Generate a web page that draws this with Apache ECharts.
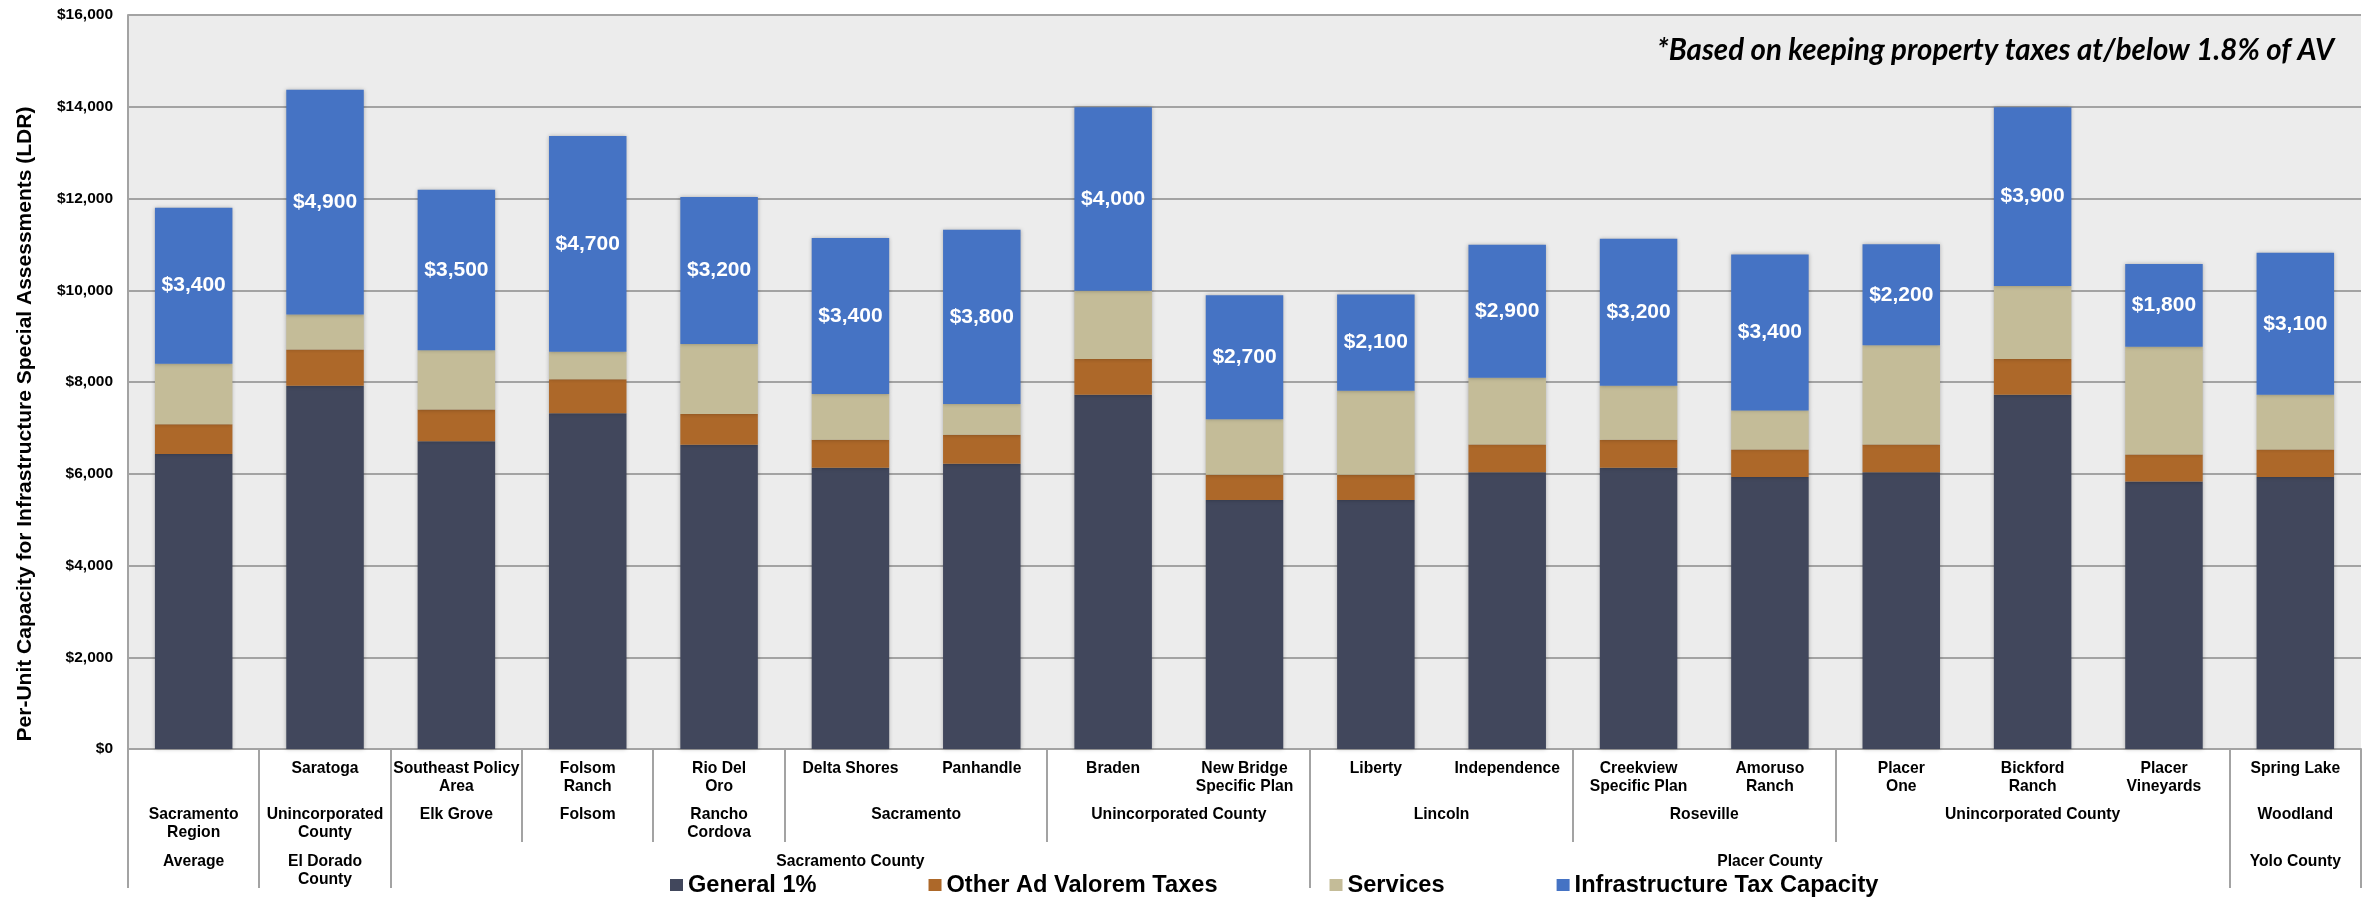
<!DOCTYPE html>
<html>
<head>
<meta charset="utf-8">
<script src="https://cdn.jsdelivr.net/npm/echarts@6/dist/echarts.min.js"></script>
<style>
  html, body { margin: 0; padding: 0; background: #ffffff; }
  #chart { width: 2374px; height: 898px; }
</style>
</head>
<body>
<div id="chart"></div>
<script>
// Project names (first tier of the category axis)
const categories = [
  '', 'Saratoga', 'Southeast Policy\nArea', 'Folsom\nRanch', 'Rio Del\nOro',
  'Delta Shores', 'Panhandle', 'Braden', 'New Bridge\nSpecific Plan', 'Liberty',
  'Independence', 'Creekview\nSpecific Plan', 'Amoruso\nRanch', 'Placer\nOne',
  'Bickford\nRanch', 'Placer\nVineyards', 'Spring Lake'
];

// Jurisdiction tier: [label, first index, last index]
const jurisdictions = [
  ['Sacramento\nRegion', 0, 0],
  ['Unincorporated\nCounty', 1, 1],
  ['Elk Grove', 2, 2],
  ['Folsom', 3, 3],
  ['Rancho\nCordova', 4, 4],
  ['Sacramento', 5, 6],
  ['Unincorporated County', 7, 8],
  ['Lincoln', 9, 10],
  ['Roseville', 11, 12],
  ['Unincorporated County', 13, 15],
  ['Woodland', 16, 16]
];

// County tier: [label, first index, last index]
const counties = [
  ['Average', 0, 0],
  ['El Dorado\nCounty', 1, 1],
  ['Sacramento County', 2, 8],
  ['Placer County', 9, 15],
  ['Yolo County', 16, 16]
];

// Per-unit amounts ($)
const general1 = [6430, 7920, 6710, 7320, 6630, 6130, 6220, 7720, 5430, 5430, 6030, 6130, 5930, 6030, 7720, 5830, 5930];
const otherAdValorem = [650, 790, 690, 740, 670, 610, 630, 780, 550, 550, 610, 610, 600, 610, 780, 590, 600];
const services = [1320, 760, 1290, 600, 1530, 1000, 670, 1490, 1210, 1830, 1450, 1180, 850, 2160, 1590, 2350, 1190];
const infrastructure = [3400, 4900, 3500, 4700, 3200, 3400, 3800, 4000, 2700, 2100, 2900, 3200, 3400, 2200, 3900, 1800, 3100];

const seriesNames = ['General 1%', 'Other Ad Valorem Taxes', 'Services', 'Infrastructure Tax Capacity'];
const yTicks = { min: 0, max: 16000, interval: 2000 };
const noteText = '*Based on keeping property taxes at/below 1.8% of AV';
const yTitle = 'Per-Unit Capacity for Infrastructure Special Assessments (LDR)';

const FONT = "'Liberation Sans', Arial, Helvetica, sans-serif";
const colors = ['#41475c', '#ad6829', '#c4bc98', '#4573c4'];
const money = v => '$' + Number(v).toLocaleString('en-US');

const chart = echarts.init(document.getElementById('chart'), null, { renderer: 'canvas' });

const barShadow = { shadowBlur: 4, shadowColor: 'rgba(0,0,0,0.28)', shadowOffsetX: 0, shadowOffsetY: 0 };

function barSeries(name, data, idx, withLabel) {
  return {
    name: name,
    type: 'bar',
    stack: 'total',
    barWidth: '59%',
    data: data,
    itemStyle: Object.assign({ color: colors[idx] }, barShadow),
    emphasis: { disabled: true },
    label: withLabel ? {
      show: true,
      position: 'inside',
      color: '#ffffff',
      fontFamily: FONT,
      fontWeight: 'bold',
      fontSize: 21,
      formatter: p => money(p.value)
    } : { show: false }
  };
}

chart.setOption({
  animation: false,
  backgroundColor: '#ffffff',
  grid: {
    left: 128, top: 15, width: 2233, height: 734,
    show: true, backgroundColor: '#ececec', borderWidth: 0
  },
  xAxis: {
    type: 'category',
    data: categories,
    axisLine: { show: true, lineStyle: { color: '#a3a3a3', width: 2 } },
    axisTick: { show: false },
    splitLine: { show: false },
    axisLabel: {
      interval: 0,
      margin: 11,
      color: '#000000',
      fontFamily: FONT,
      fontWeight: 'bold',
      fontSize: 15.7,
      lineHeight: 17.7,
      align: 'center'
    }
  },
  yAxis: {
    type: 'value',
    min: yTicks.min,
    max: yTicks.max,
    interval: yTicks.interval,
    axisLine: { show: true, lineStyle: { color: '#a3a3a3', width: 2 } },
    axisTick: { show: false },
    splitLine: { show: true, lineStyle: { color: '#a3a3a3', width: 2 } },
    axisLabel: {
      margin: 15,
      color: '#000000',
      fontFamily: FONT,
      fontWeight: 'bold',
      fontSize: 15.5,
      formatter: v => money(v)
    }
  },
  legend: {
    data: seriesNames,
    left: 670,
    top: 873,
    padding: 0,
    itemGap: 112,
    itemWidth: 13,
    itemHeight: 12,
    icon: 'rect',
    selectedMode: false,
    textStyle: { color: '#000000', fontFamily: FONT, fontWeight: 'bold', fontSize: 23.6 }
  },
  series: [
    barSeries(seriesNames[0], general1, 0, false),
    barSeries(seriesNames[1], otherAdValorem, 1, false),
    barSeries(seriesNames[2], services, 2, false),
    barSeries(seriesNames[3], infrastructure, 3, true)
  ]
});

// Group labels and divider lines below the category axis
const axisY = chart.convertToPixel({ yAxisIndex: 0 }, 0);
const centerOf = i => chart.convertToPixel({ xAxisIndex: 0 }, categories[i]);
const band = centerOf(1) - centerOf(0);
const edgeOf = b => centerOf(0) - band / 2 + b * band;

const labelStyle = {
  fill: '#000000',
  font: 'bold 15.7px ' + FONT,
  lineHeight: 17.7,
  align: 'center',
  verticalAlign: 'top'
};

const graphics = [];
function groupText(group, topY) {
  const x = (centerOf(group[1]) + centerOf(group[2])) / 2;
  graphics.push({
    type: 'text', x: x, y: topY, silent: true,
    style: Object.assign({ text: group[0] }, labelStyle)
  });
}
jurisdictions.forEach(g => groupText(g, axisY + 57));
counties.forEach(g => groupText(g, axisY + 104));

// Boundary lines: full height between counties, shorter between jurisdictions
const fullEdges = new Set([0, categories.length]);
counties.forEach(g => { fullEdges.add(g[1]); fullEdges.add(g[2] + 1); });
const shortEdges = new Set();
jurisdictions.forEach(g => {
  [g[1], g[2] + 1].forEach(b => { if (!fullEdges.has(b)) shortEdges.add(b); });
});
function divider(b, len) {
  const x = Math.round(edgeOf(b));
  graphics.push({
    type: 'line', silent: true,
    shape: { x1: x, y1: axisY, x2: x, y2: axisY + len },
    style: { stroke: '#a3a3a3', lineWidth: 2 }
  });
}
fullEdges.forEach(b => divider(b, 139));
shortEdges.forEach(b => divider(b, 93));

// Vertical axis title
graphics.push({
  type: 'text', x: 25, y: 424, rotation: Math.PI / 2, silent: true,
  style: {
    text: yTitle, fill: '#000000', font: 'bold 21px ' + FONT,
    align: 'center', verticalAlign: 'middle'
  }
});

// Footnote in the top-right corner of the plot
const noteFont = 'italic bold 31px Lato, sans-serif';
const measure = document.createElement('canvas').getContext('2d');
measure.font = noteFont;
const noteScale = 677 / measure.measureText(noteText).width;
graphics.push({
  type: 'text', x: 2334, y: 50, scaleX: noteScale, silent: true,
  style: { text: noteText, fill: '#000000', font: noteFont, align: 'right', verticalAlign: 'middle' }
});

chart.setOption({ graphic: graphics });
</script>
</body>
</html>
